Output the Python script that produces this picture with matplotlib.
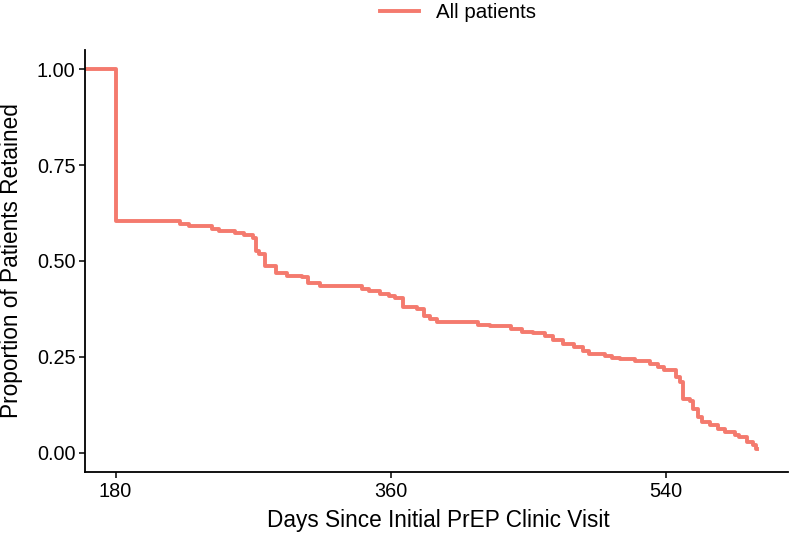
import matplotlib
matplotlib.use("Agg")
from matplotlib import pyplot as plt

plt.rcParams["font.family"] = ["Liberation Sans", "DejaVu Sans"]

# Kaplan-Meier style retention curve: day of each step and proportion after it
days = [160, 180, 222, 228, 243, 248, 258, 264, 270, 272, 274, 278, 285, 292,
        302, 306, 314, 341, 346, 353, 359, 363, 368, 377, 382, 386, 390, 417,
        425, 439, 446, 453, 461, 466, 473, 480, 486, 490, 500, 505, 510, 520,
        530, 535, 539, 547, 549, 551, 556, 558, 561, 564, 569, 574, 579, 585,
        588, 593, 597, 599, 600]
retained = [1.000, 0.603, 0.597, 0.590, 0.584, 0.579, 0.574, 0.569, 0.561,
            0.527, 0.519, 0.488, 0.468, 0.462, 0.457, 0.442, 0.434, 0.426,
            0.421, 0.413, 0.408, 0.403, 0.379, 0.374, 0.356, 0.348, 0.340,
            0.332, 0.330, 0.322, 0.314, 0.312, 0.304, 0.294, 0.283, 0.275,
            0.265, 0.257, 0.252, 0.247, 0.244, 0.239, 0.231, 0.223, 0.216,
            0.197, 0.184, 0.140, 0.135, 0.114, 0.094, 0.081, 0.073, 0.062,
            0.055, 0.047, 0.042, 0.029, 0.021, 0.010, 0.010]

x_ticks = [180, 360, 540]
y_ticks = [0.0, 0.25, 0.5, 0.75, 1.0]
y_labels = ["0.00", "0.25", "0.50", "0.75", "1.00"]

fig = plt.figure(figsize=(7.92, 5.35), dpi=100)
ax = fig.add_axes([0.1073, 0.1178, 0.8877, 0.7887])

ax.step(days, retained, where="post", color="#F47A6E", linewidth=2.8,
        label="All patients")

ax.set_xlim(160, 620)
ax.set_ylim(-0.05, 1.05)
ax.set_xticks(x_ticks)
ax.set_yticks(y_ticks)
ax.set_yticklabels(y_labels)

for side in ["top", "right"]:
    ax.spines[side].set_visible(False)
for side in ["left", "bottom"]:
    ax.spines[side].set_linewidth(1.3)
ax.tick_params(direction="out", length=4, width=1.1, labelsize=14.3,
               colors="black", pad=3)

ax.set_xlabel("Days Since Initial PrEP Clinic Visit", fontsize=16.3, va="center")
ax.set_ylabel("Proportion of Patients Retained", fontsize=16.3, va="center")
ax.xaxis.set_label_coords(0.502, -0.116)
ax.yaxis.set_label_coords(-0.104, 0.502)

fig.legend(loc="center", bbox_to_anchor=(0.578, 0.977), frameon=False,
           fontsize=14.8, handlelength=1.9, handletextpad=0.8)

fig.savefig("out.png", dpi=100)
